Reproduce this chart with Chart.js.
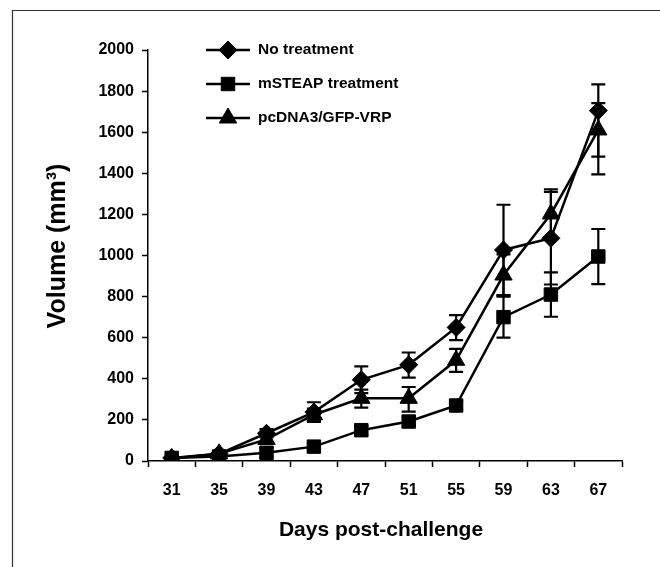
<!DOCTYPE html>
<html><head><meta charset="utf-8">
<script src="https://cdn.jsdelivr.net/npm/chart.js@4/dist/chart.umd.min.js"></script>
<style>html,body{margin:0;padding:0;background:#fff}#wrap{width:660px;height:567px;position:relative}</style>
</head><body><div id="wrap"><canvas id="c" width="660" height="567"></canvas></div>
<script>
// ---- data ----
const days = ['31','35','39','43','47','51','55','59','63','67'];
const seriesNames = ['No treatment','mSTEAP treatment','pcDNA3/GFP-VRP'];
const noTreatment      = [15, 35, 135, 238, 395, 468, 650, 1027, 1084, 1705];
const noTreatmentUp    = [5, 10, 20, 48, 65, 60, 60, 220, 225, 128];
const noTreatmentDown  = [5, 10, 20, 48, 65, 62, 62, 220, 225, 224];
const mSTEAP           = [15, 22, 40, 70, 150, 192, 270, 700, 810, 995];
const mSTEAPUp         = [5, 8, 25, 15, 22, 25, 20, 100, 108, 134];
const mSTEAPDown       = [5, 8, 25, 15, 22, 25, 20, 100, 108, 134];
const pcDNA3           = [12, 35, 105, 225, 305, 305, 490, 905, 1202, 1611];
const pcDNA3Up         = [5, 10, 20, 30, 42, 55, 56, 100, 120, 130];
const pcDNA3Down       = [5, 10, 20, 30, 45, 65, 56, 100, 120, 216];
const yTicks = {min: 0, max: 2000, step: 200};
const xTitle = 'Days post-challenge';
const yTitle = 'Volume (mm\u00B3)';

const FONT = '"Liberation Sans", Arial, Helvetica, sans-serif';
const styles = ['rectRot','rect','triangle'];
const radii = [9, 9.5, 10];

function marker(ctx, style, r, x, y){
  if (Chart.helpers && Chart.helpers.drawPoint){
    ctx.fillStyle='#000'; ctx.strokeStyle='#000'; ctx.lineWidth=1;
    Chart.helpers.drawPoint(ctx, {pointStyle: style, radius: r, rotation: 0, borderWidth: 1}, x, y);
    return;
  }
  ctx.beginPath();
  if (style==='rect'){ const s=r*Math.SQRT1_2; ctx.rect(x-s,y-s,2*s,2*s); }
  else if (style==='rectRot'){ ctx.moveTo(x,y-r);ctx.lineTo(x+r,y);ctx.lineTo(x,y+r);ctx.lineTo(x-r,y);ctx.closePath(); }
  else { ctx.moveTo(x,y-r);ctx.lineTo(x+0.866*r,y+0.5*r);ctx.lineTo(x-0.866*r,y+0.5*r);ctx.closePath(); }
  ctx.fillStyle='#000'; ctx.fill(); ctx.stroke();
}

const frame = {
  id:'frame',
  beforeDraw(chart){
    const ctx=chart.ctx; ctx.save();
    ctx.fillStyle='#fff'; ctx.fillRect(0,0,chart.width,chart.height);
    ctx.strokeStyle='#333'; ctx.lineWidth=1.2;
    ctx.beginPath(); ctx.moveTo(12.5,567); ctx.lineTo(12.5,10.5); ctx.lineTo(660,10.5); ctx.stroke();
    ctx.restore();
  }
};

const errorBars = {
  id:'errorBars',
  beforeDatasetsDraw(chart){
    const ctx=chart.ctx, xs=chart.scales.x, ys=chart.scales.y;
    ctx.save(); ctx.strokeStyle='#000'; ctx.lineWidth=2.2; ctx.lineCap='butt';
    chart.data.datasets.forEach(ds=>{
      ds.data.forEach((v,i)=>{
        const x=xs.getPixelForValue(i);
        const yt=ys.getPixelForValue(v+ds.errUp[i]);
        const yb=ys.getPixelForValue(v-ds.errDown[i]);
        ctx.beginPath();
        ctx.moveTo(x,yt); ctx.lineTo(x,yb);
        ctx.moveTo(x-7,yt); ctx.lineTo(x+7,yt);
        ctx.moveTo(x-7,yb); ctx.lineTo(x+7,yb);
        ctx.stroke();
      });
    });
    ctx.restore();
  }
};

const extras = {
  id:'extras',
  afterDraw(chart){
    const ctx=chart.ctx; ctx.save();
    // legend
    const rows=[50,84,118];
    chart.data.datasets.forEach((ds,k)=>{
      const y=rows[k];
      ctx.strokeStyle='#000'; ctx.lineWidth=2.5;
      ctx.beginPath(); ctx.moveTo(206,y); ctx.lineTo(250,y); ctx.stroke();
      marker(ctx, styles[k], radii[k], 228, y);
      ctx.fillStyle='#000'; ctx.font='bold 15.5px '+FONT; ctx.textBaseline='middle'; ctx.textAlign='left';
      ctx.fillText(ds.label, 258, y);
    });
    // titles
    ctx.fillStyle='#000'; ctx.font='bold 21px '+FONT; ctx.textAlign='center'; ctx.textBaseline='middle';
    ctx.fillText(xTitle, 381, 530);
    ctx.font='bold 25px '+FONT;
    ctx.translate(58,246); ctx.rotate(-Math.PI/2);
    ctx.fillText(yTitle, 0, 0);
    ctx.restore();
  }
};

const mk = (label, data, up, down, k) => ({
  label, data, errUp: up, errDown: down,
  borderColor:'#000', backgroundColor:'#000', borderWidth:2.5,
  pointStyle: styles[k], pointRadius: radii[k], pointBorderWidth:1,
  pointBackgroundColor:'#000', pointBorderColor:'#000', tension:0, fill:false
});

const tickFont = {family: FONT, size: 16, weight: 'bold'};

new Chart(document.getElementById('c'), {
  type:'line',
  data:{
    labels: days,
    datasets:[
      mk(seriesNames[0], noTreatment, noTreatmentUp, noTreatmentDown, 0),
      mk(seriesNames[1], mSTEAP, mSTEAPUp, mSTEAPDown, 1),
      mk(seriesNames[2], pcDNA3, pcDNA3Up, pcDNA3Down, 2)
    ]
  },
  options:{
    responsive:false, animation:false, devicePixelRatio:1,
    layout:{padding:{top:50, right:38, left:0, bottom:0}},
    plugins:{legend:{display:false}, tooltip:{enabled:false}, title:{display:false}},
    scales:{
      x:{
        type:'category', offset:true,
        grid:{display:true, drawOnChartArea:false, drawTicks:true, tickLength:6, tickWidth:1.5, tickColor:'#000', offset:true},
        border:{display:true, color:'#000', width:1.5},
        ticks:{color:'#000', font:tickFont, padding:14, maxRotation:0, autoSkip:false},
        afterFit(s){ s.height = 106; }
      },
      y:{
        min:yTicks.min, max:yTicks.max,
        grid:{display:true, drawOnChartArea:false, drawTicks:true, tickLength:6, tickWidth:1.5, tickColor:'#000'},
        border:{display:true, color:'#000', width:1.5},
        ticks:{stepSize:yTicks.step, color:'#000', font:tickFont, padding:8, callback:(v)=>String(v)},
        afterFit(s){ s.width = 148; }
      }
    }
  },
  plugins:[frame, errorBars, extras]
});
</script></body></html>
